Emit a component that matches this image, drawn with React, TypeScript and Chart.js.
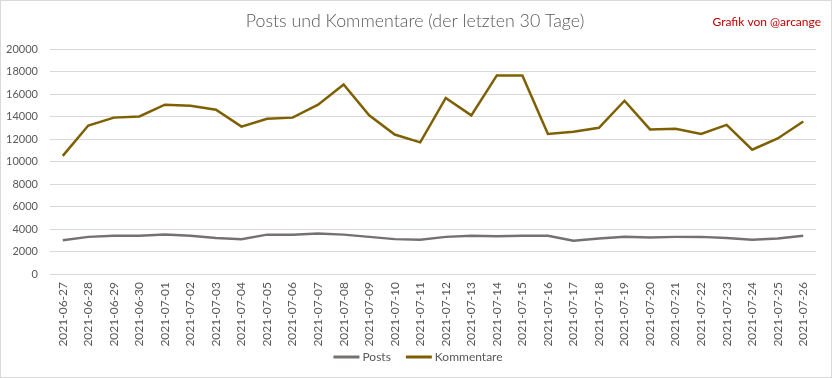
import React, { useEffect, useRef } from "react";
import { Chart, registerables } from "chart.js";

Chart.register(...registerables);

const TITLE = "Posts und Kommentare (der letzten 30 Tage)";
const CREDIT = "Grafik von @arcange";

const categories = [
  "2021-06-27", "2021-06-28", "2021-06-29", "2021-06-30", "2021-07-01",
  "2021-07-02", "2021-07-03", "2021-07-04", "2021-07-05", "2021-07-06",
  "2021-07-07", "2021-07-08", "2021-07-09", "2021-07-10", "2021-07-11",
  "2021-07-12", "2021-07-13", "2021-07-14", "2021-07-15", "2021-07-16",
  "2021-07-17", "2021-07-18", "2021-07-19", "2021-07-20", "2021-07-21",
  "2021-07-22", "2021-07-23", "2021-07-24", "2021-07-25", "2021-07-26",
];

const posts = [
  3000, 3300, 3400, 3400, 3500, 3400, 3200, 3100, 3500, 3500,
  3600, 3500, 3300, 3100, 3050, 3300, 3400, 3350, 3400, 3400,
  2950, 3150, 3300, 3250, 3300, 3300, 3200, 3050, 3150, 3400,
];

const kommentare = [
  10500, 13200, 13900, 14000, 15050, 14950, 14600, 13100, 13800, 13900,
  15050, 16850, 14100, 12400, 11700, 15650, 14100, 17650, 17650, 12450,
  12650, 13000, 15400, 12850, 12900, 12450, 13250, 11050, 12050, 13550,
];

const seriesNames = ["Posts", "Kommentare"];
const seriesColors = ["#767171", "#7F6000"];

const FONT = "Lato, 'Open Sans', sans-serif";

const decorPlugin = {
  id: "decor",
  beforeDraw(chart: any) {
    const ctx = chart.ctx;
    ctx.save();
    ctx.fillStyle = "#ffffff";
    ctx.fillRect(0, 0, chart.width, chart.height);
    ctx.restore();
  },
  afterDraw(chart: any) {
    const ctx = chart.ctx;
    ctx.save();
    // border
    ctx.strokeStyle = "#D9D9D9";
    ctx.lineWidth = 1;
    ctx.strokeRect(0.5, 0.5, chart.width - 1, chart.height - 1);
    // title
    ctx.fillStyle = "#595959";
    ctx.font = `300 17.8px ${FONT}`;
    ctx.textAlign = "center";
    ctx.textBaseline = "middle";
    ctx.fillText(TITLE, 415, 21);
    // credit
    ctx.fillStyle = "#C00000";
    ctx.font = `12px ${FONT}`;
    ctx.textAlign = "right";
    ctx.fillText(CREDIT, 821, 22);
    // legend
    ctx.font = `12px ${FONT}`;
    ctx.textAlign = "left";
    const lineLen = 26;
    const gap = 3;
    const itemGap = 15;
    const items = chart.data.datasets.map((d: any) => ({
      label: d.label,
      color: d.borderColor,
      w: lineLen + gap + ctx.measureText(d.label).width,
    }));
    const total = items.reduce((s: number, it: any) => s + it.w, 0) + itemGap * (items.length - 1);
    let x = 418 - total / 2;
    const y = 357;
    items.forEach((it: any) => {
      ctx.strokeStyle = it.color;
      ctx.lineWidth = 3;
      ctx.beginPath();
      ctx.moveTo(x, y);
      ctx.lineTo(x + lineLen, y);
      ctx.stroke();
      ctx.fillStyle = "#595959";
      ctx.fillText(it.label, x + lineLen + gap, y);
      x += it.w + itemGap;
    });
    ctx.restore();
  },
};

export default function App() {
  const canvasRef = useRef<HTMLCanvasElement | null>(null);

  useEffect(() => {
    document.body.style.margin = "0";
    const canvas = canvasRef.current;
    if (!canvas) return;
    const chart = new Chart(canvas, {
      type: "line",
      data: {
        labels: categories,
        datasets: [
          {
            label: seriesNames[0],
            data: posts,
            borderColor: seriesColors[0],
            backgroundColor: seriesColors[0],
            borderWidth: 2.5,
            pointRadius: 0,
            tension: 0,
          },
          {
            label: seriesNames[1],
            data: kommentare,
            borderColor: seriesColors[1],
            backgroundColor: seriesColors[1],
            borderWidth: 2.5,
            pointRadius: 0,
            tension: 0,
          },
        ],
      },
      options: {
        responsive: false,
        animation: false,
        devicePixelRatio: 1,
        layout: { padding: { left: 0, right: 16, top: 49, bottom: 30 } },
        plugins: {
          legend: { display: false },
          title: { display: false },
          tooltip: { enabled: false },
        },
        scales: {
          x: {
            offset: true,
            grid: { display: false, drawTicks: false },
            border: { display: false },
            ticks: {
              autoSkip: false,
              minRotation: 90,
              maxRotation: 90,
              padding: 8,
              color: "#595959",
              font: { family: FONT, size: 12 },
            },
            afterFit(scale: any) {
              scale.height = 74;
            },
          },
          y: {
            min: 0,
            max: 20000,
            ticks: {
              stepSize: 2000,
              padding: 12,
              color: "#595959",
              font: { family: FONT, size: 11 },
              callback: (v: any) => String(v),
            },
            grid: { color: "#D9D9D9", lineWidth: 1, drawTicks: false },
            border: { display: false },
            afterFit(scale: any) {
              scale.width = 50;
            },
          },
        },
      },
      plugins: [decorPlugin],
    });
    return () => chart.destroy();
  }, []);

  return (
    <div style={{ position: "absolute", left: 0, top: 0, width: 832, height: 378 }}>
      <canvas ref={canvasRef} width={832} height={378} style={{ display: "block" }} />
    </div>
  );
}
